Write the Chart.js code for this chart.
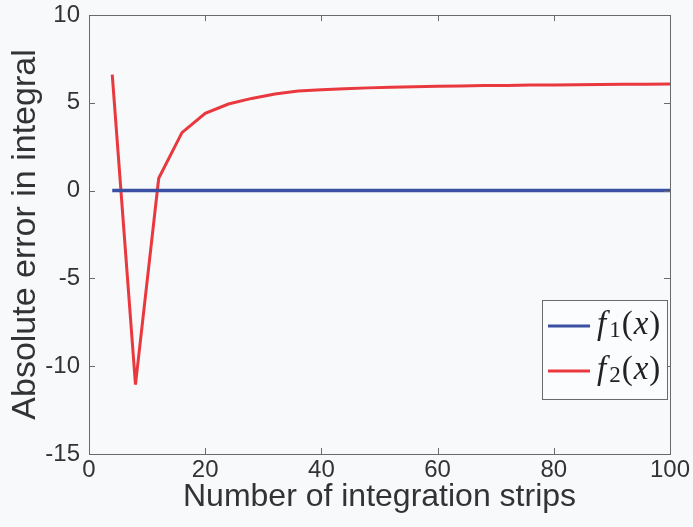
<!DOCTYPE html>
<html>
<head>
<meta charset="utf-8">
<script src="https://cdn.jsdelivr.net/npm/chart.js@4/dist/chart.umd.min.js"></script>
<style>
  html, body { margin: 0; padding: 0; background: #f7f9fb; }
  #wrap { width: 693px; height: 527px; }
</style>
</head>
<body>
<div id="wrap"><canvas id="chart" width="693" height="527"></canvas></div>
<script>
// numero di strisce (asse x)
const strips = [4, 8, 12, 16, 20, 24, 28, 32, 36, 40, 44, 48, 52, 56, 60, 64, 68, 72, 76, 80, 84, 88, 92, 96, 100];
// errore assoluto
const errF1 = [0, 0, 0, 0, 0, 0, 0, 0, 0, 0, 0, 0, 0, 0, 0, 0, 0, 0, 0, 0, 0, 0, 0, 0, 0];
const errF2 = [6.6, -11.05, 0.7, 3.3, 4.4, 4.93, 5.25, 5.5, 5.67, 5.74, 5.8, 5.85, 5.89, 5.92, 5.94,
               5.96, 5.98, 5.99, 6.01, 6.02, 6.03, 6.04, 6.05, 6.06, 6.07];
const seriesNames = ['f₁(x)', 'f₂(x)'];
const xTicks = [0, 20, 40, 60, 80, 100];
const yTicks = [-15, -10, -5, 0, 5, 10];

const textCol = '#333';
const axisCol = '#6a6a6a';

// box + tick interni stile MATLAB
const frameTicks = {
  id: 'frameTicks',
  afterDatasetsDraw(chart) {
    const { ctx, chartArea: a, scales } = chart;
    ctx.save();
    ctx.strokeStyle = axisCol;
    ctx.lineWidth = 1;
    ctx.strokeRect(a.left + 0.5, a.top + 0.5, a.right - a.left, a.bottom - a.top);
    const len = 6;
    ctx.beginPath();
    xTicks.forEach(v => {
      const px = Math.round(scales.x.getPixelForValue(v)) + 0.5;
      ctx.moveTo(px, a.bottom); ctx.lineTo(px, a.bottom - len);
      ctx.moveTo(px, a.top); ctx.lineTo(px, a.top + len);
    });
    yTicks.forEach(v => {
      const py = Math.round(scales.y.getPixelForValue(v)) + 0.5;
      ctx.moveTo(a.left, py); ctx.lineTo(a.left + len, py);
      ctx.moveTo(a.right, py); ctx.lineTo(a.right - len, py);
    });
    ctx.stroke();
    ctx.restore();
  }
};

// legenda dentro l'area del grafico, con testo in stile LaTeX
const subDigits = { '₁': '1', '₂': '2' };
function drawMath(ctx, text, x, y, size) {
  for (const ch of text) {
    if (subDigits[ch]) {
      ctx.font = `${Math.round(size * 0.7)}px "Liberation Serif"`;
      ctx.fillText(subDigits[ch], x, y + size * 0.18);
      x += ctx.measureText(subDigits[ch]).width + 1;
    } else if (/[a-z]/.test(ch)) {
      ctx.font = `italic ${size}px "Liberation Serif"`;
      ctx.fillText(ch, x, y);
      x += ctx.measureText(ch).width + (ch === 'f' ? 3 : 1);
    } else {
      ctx.font = `${size}px "Liberation Serif"`;
      ctx.fillText(ch, x, y);
      x += ctx.measureText(ch).width + 1;
    }
  }
}
const insideLegend = {
  id: 'insideLegend',
  afterDraw(chart) {
    const { ctx, chartArea: a } = chart;
    const bx = a.right - 128, by = a.bottom - 154, bw = 125, bh = 99;
    ctx.save();
    ctx.fillStyle = '#fbfcfd';
    ctx.fillRect(bx, by, bw, bh);
    ctx.strokeStyle = axisCol;
    ctx.lineWidth = 1;
    ctx.strokeRect(bx + 0.5, by + 0.5, bw, bh);
    ctx.textBaseline = 'middle';
    ctx.fillStyle = '#222';
    chart.data.datasets.forEach((ds, i) => {
      const yy = by + 26 + i * 45;
      ctx.strokeStyle = ds.borderColor;
      ctx.lineWidth = 3;
      ctx.beginPath();
      ctx.moveTo(bx + 6, yy); ctx.lineTo(bx + 48, yy);
      ctx.stroke();
      drawMath(ctx, ds.label, bx + 55, yy - 1, 33);
    });
    ctx.restore();
  }
};

const toPoints = (ys) => strips.map((x, i) => ({ x, y: ys[i] }));

new Chart(document.getElementById('chart'), {
  type: 'line',
  data: {
    datasets: [
      { label: seriesNames[0], data: toPoints(errF1), borderColor: '#3b4fa3', borderWidth: 3.5,
        pointRadius: 0, tension: 0, fill: false },
      { label: seriesNames[1], data: toPoints(errF2), borderColor: '#e9393f', borderWidth: 3,
        pointRadius: 0, tension: 0, fill: false }
    ]
  },
  options: {
    responsive: false,
    animation: false,
    layout: { padding: { left: 0, top: 15, right: 23, bottom: 0 } },
    plugins: { legend: { display: false }, tooltip: { enabled: false } },
    scales: {
      x: {
        type: 'linear', min: 0, max: 100,
        afterFit: (s) => { s.height = 73; s.paddingLeft = 0; s.paddingRight = 0; },
        afterBuildTicks: (s) => { s.ticks = xTicks.map(v => ({ value: v })); },
        grid: { display: false, drawTicks: false },
        border: { display: false },
        ticks: { padding: 2, color: textCol, font: { family: 'Liberation Sans', size: 24 }, maxRotation: 0 },
        title: { display: true, text: 'Number of integration strips', color: textCol,
                 font: { family: 'Liberation Sans', size: 32 }, padding: { top: 0, bottom: 11 } }
      },
      y: {
        min: -15, max: 10,
        afterFit: (s) => { s.width = 89; s.paddingTop = 0; s.paddingBottom = 0; },
        afterBuildTicks: (s) => { s.ticks = yTicks.map(v => ({ value: v })); },
        grid: { display: false, drawTicks: false },
        border: { display: false },
        ticks: { padding: 9, color: textCol, font: { family: 'Liberation Sans', size: 24 } },
        title: { display: true, text: 'Absolute error in integral', color: textCol,
                 font: { family: 'Liberation Sans', size: 34 }, padding: { top: 5, bottom: 0 } }
      }
    }
  },
  plugins: [frameTicks, insideLegend]
});
</script>
</body>
</html>
